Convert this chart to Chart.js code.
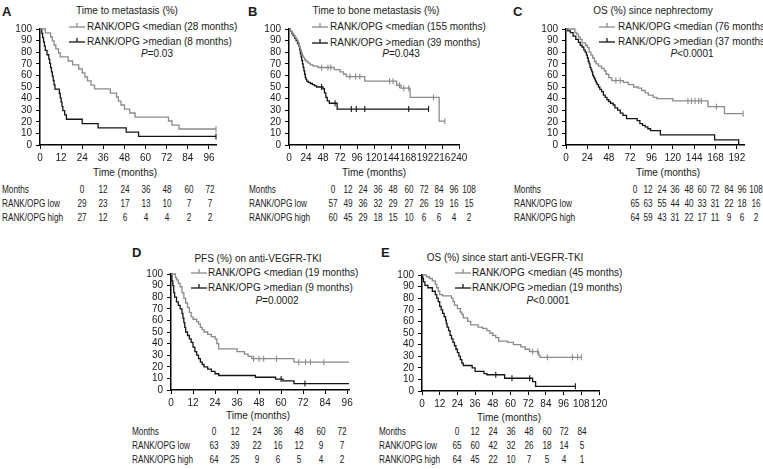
<!DOCTYPE html>
<html><head><meta charset="utf-8">
<script src="https://cdn.jsdelivr.net/npm/chart.js@4/dist/chart.umd.min.js"></script>
<style>
html,body{margin:0;padding:0;background:#fff;}
#wrap{position:relative;width:763px;height:469px;overflow:hidden;font-family:"Liberation Sans",Arial,Helvetica,sans-serif;color:#1a1a1a;}
.t{position:absolute;white-space:nowrap;font-size:10px;line-height:12px;}
.lt{font-weight:bold;font-size:13px;line-height:15px;}
.tbl{font-size:10px;}
canvas{position:absolute;}
svg{position:absolute;}
</style></head>
<body><div id="wrap"></div>
<script>
// ---------------- DATA ----------------
const yTicks = [0,10,20,30,40,50,60,70,80,90,100];
const xTicksA = [0,12,24,36,48,60,72,84,96];
const xTicksB = [0,24,48,72,96,120,144,168,192,216,240];
const xTicksC = [0,24,48,72,96,120,144,168,192];
const xTicksD = [0,12,24,36,48,60,72,84,96];
const xTicksE = [0,12,24,36,48,60,72,84,96,108,120];

// Panel A: Time to metastasis
const A_low_t  = [0,3,6,7,8,9,10.5,11.5,16,18.5,22,24,25.5,27,29,31,40,43.5,44.5,46,48,51,54,73,75,79,100];
const A_low_s  = [100,96.6,93.1,89.7,86.2,82.8,79.3,75.9,72.4,69,65.5,62.1,58.6,55.2,51.7,48.3,44.8,41.4,37.9,34.5,31,27.6,24.1,20.7,17.2,13.8,13.8];
const A_low_c  = [100];
const A_high_t = [0,1,1.5,2,2.5,3,4,5,5.5,6,6.5,7,7.5,8,8.5,11,11.5,12,12.5,13,14,15,24,33,49,56,100];
const A_high_s = [100,96.3,92.6,88.9,85.2,81.5,77.8,74.1,70.4,66.7,63,59.3,55.6,51.9,48.1,44.4,40.7,37,33.3,29.6,25.9,22.2,18.5,14.8,11.1,7.4,7.4];
const A_high_c = [100];

// Panel B: Time to bone metastasis
const B_low_t  = [0,2,4,6,8,10,12,13,14,15,16,17,18,19,20,22,24,27,30,34,41,64,72,77,81,107,152,158,171,212,220];
const B_low_s  = [100,98,96.5,95,93,91,89.5,88,86,84,82.5,80.5,79,77,75.5,73.5,72,70.5,69,68,66.8,65,63,61,59,55,51.5,49,41,20.5,20.5];
const B_low_c  = [46,55,59,86,94,100,142,147,156,162,169,204,220];
const B_high_t = [0,2,4,6,8,10,12,14,15,16,17,18,19,20,21,22,23,24,25,27,30,33,36,39,48,50,52,54,57,68,197];
const B_high_s = [100,98,96,94,92,90,87.5,85,82,79,76,73,70,67,64,61,58,56.5,55,54,53,52,51,50,48.5,45,41,38,36,31,31];
const B_high_c = [46,65,88,95,107,169,197];

// Panel C: OS since nephrectomy
const C_low_t  = [0,10,12,14,16,18,22,24,26,28,30,32,34,36.5,40,43,45,48,51.5,64.5,70,76,81,85,89,92.5,98,102,120,159.5,178,199];
const C_low_s  = [100,97,95.5,93,91,88,86,84,80,77.5,75,72,70,68,66,64,61,58,55.5,54,52,50,49,47,45,43,41,40,38,33,27,27];
const C_low_c  = [56,61,137,141,145,149,152,169,199];
const C_high_t = [0,2,5,8,11,14,16,18,20,21.5,23,24,25,26,27,28,29,30,31,32,33,34,35,36.5,38,40,42,44,46,48,50,53,55,58,61,64,68,80,83,86,89,92,95,106,167,194];
const C_high_s = [100,98.4,96.9,93.8,91,88.5,86,84.5,82,80,77.5,75,72,70,67,65,63,60,58.5,57,55,53.5,52,50,48,46,43,41,39,37.5,36,34.5,32,30,27.5,25.5,22.8,21,18.5,17,15.7,14,12.4,8.7,4.4,0];
const C_high_c = [];

// Panel D: PFS on anti-VEGFR-TKI
const D_low_t  = [0,2.4,3,4,5,6,7,8,9,10,11,12,14,15,16,17,18,20,22,24,25,26,36,40,42,44,67,97];
const D_low_s  = [100,97,95,92,89,84,79,75,71,67,63,61,59,57,54,52,50,48,46,44,40,35.5,33,31,29,27,24,24];
const D_low_c  = [45,48,50.5,57.5,69.6,73.3,76,83.3];
const D_high_t = [0,0.5,1,1.5,2,3,4,5,6,6.5,7,7.5,8,9,10,11,12,13,14,15,16,17,18,20,22,24,26,46,57,61,67,97];
const D_high_s = [100,94,90,84,80,76,73,70,66,62,58,54,50,47,44,41,37,33,30,27,24,22,20,18,16,14,12.5,11,9.4,7.8,5.5,5.5];
const D_high_c = [60,73];

// Panel E: OS since start anti-VEGFR-TKI
const E_low_t  = [0,3,5,7,9,10,11,12,14,20,21,22,24,26,27,28,31,33,38,41,44,46,48,50,52,58,62,67,70,73,79,80,108];
const E_low_s  = [100,98.5,97,95,92,89,86,83,82,80,77,74,71,68,66,63,60,57,55,54,52,50,48,46,43,42,40,38,36,34,31,29,29];
const E_low_c  = [75,78.5,85,102,105.5,108];
const E_high_t = [0,0.5,1,2,4,7,9,10,11,12,13,14,15,16,16.5,17,18,19,20,21,22,23,24,25,26,27,28,34,36,42,44,56,75,77,104];
const E_high_s = [100,97,94,91,89,86,83,80,77,73,70,67,64,61,58,55,52,48,45,42,39,36,33,30,27,24,22,20,17,15,14,11,8,4,4];
const E_high_c = [50,61,73,104];

// Risk tables
const monthsA = [0,12,24,36,48,60,72];
const riskA_low  = [29,23,17,13,10,7,7];
const riskA_high = [27,12,6,4,4,2,2];
const monthsB = [0,12,24,36,48,60,72,84,96,108];
const riskB_low  = [57,49,36,32,29,27,26,19,16,15];
const riskB_high = [60,45,29,18,15,10,6,6,4,2];
const monthsC = [0,12,24,36,48,60,72,84,96,108];
const riskC_low  = [65,63,55,44,40,33,31,22,18,16];
const riskC_high = [64,59,43,31,22,17,11,9,6,2];
const monthsD = [0,12,24,36,48,60,72];
const riskD_low  = [63,39,22,16,12,9,7];
const riskD_high = [64,25,9,6,5,4,2];
const monthsE = [0,12,24,36,48,60,72,84];
const riskE_low  = [65,60,42,32,26,18,14,5];
const riskE_high = [64,45,22,10,7,5,4,1];

// ---------------- RENDER ----------------
const wrap = document.getElementById('wrap');
const GRAY = '#8a8a8a', BLACK = '#151515';
const NARROW = 0.82;

function txt(s, x, y, align, cls, sx) {
  const d = document.createElement('div');
  d.className = 't ' + (cls || '');
  d.innerHTML = s;
  d.style.left = x + 'px'; d.style.top = y + 'px';
  const sc = sx ? ' scaleX(' + sx + ')' : '';
  if (align === 'left') {
    d.style.transformOrigin = 'left center';
    d.style.transform = 'translate(0,-50%)' + sc;
  } else {
    d.style.transform = 'translate(-50%,-50%)' + sc;
  }
  wrap.appendChild(d);
}
function sym(x, y, color) {
  const ns = 'http://www.w3.org/2000/svg';
  const s = document.createElementNS(ns, 'svg');
  s.setAttribute('width', 16); s.setAttribute('height', 10);
  s.style.left = x + 'px'; s.style.top = (y - 6) + 'px';
  s.innerHTML = '<line x1="0" y1="6" x2="16" y2="6" stroke="' + color + '" stroke-width="1.3"/>' +
                '<line x1="8" y1="2" x2="8" y2="6" stroke="' + color + '" stroke-width="1.3"/>';
  wrap.appendChild(s);
}
function stepAt(ts, ss, t) {
  let v = ss[0];
  for (let i = 0; i < ts.length; i++) { if (ts[i] <= t) v = ss[i]; else break; }
  return v;
}
function pts(ts, ss) { return ts.map((t, i) => ({x: t, y: ss[i]})); }
function cens(ts, ss, cs) { return cs.map(c => ({x: c, y: stepAt(ts, ss, c)})); }

function makeChart(g) {
  const LW = 36, PT = 8, PR = 14, BH = 26;
  const plotW = g.xR - g.x0, plotH = g.y0 - g.y100;
  const W = LW + plotW + PR, H = PT + plotH + BH;
  const cv = document.createElement('canvas');
  cv.width = W; cv.height = H;
  cv.style.left = (g.x0 - LW) + 'px'; cv.style.top = (g.y100 - PT) + 'px';
  cv.style.width = W + 'px'; cv.style.height = H + 'px';
  wrap.appendChild(cv);
  const line = (data, color) => ({data, borderColor: color, borderWidth: 1.3, stepped: 'before', pointRadius: 0, fill: false, clip: false});
  const cpts = (data, color) => ({data, showLine: false, pointStyle: 'line', rotation: 90, pointRadius: 3, borderColor: color, borderWidth: 1.1, clip: false});
  const font = {family: '"Liberation Sans", Arial, sans-serif', size: 10};
  new Chart(cv, {
    type: 'line',
    data: {datasets: [
      line(pts(g.lt, g.ls), GRAY), cpts(cens(g.lt, g.ls, g.lc), GRAY),
      line(pts(g.ht, g.hs), BLACK), cpts(cens(g.ht, g.hs, g.hc), BLACK)
    ]},
    options: {
      responsive: false, animation: false, devicePixelRatio: 1,
      layout: {padding: {top: PT, right: PR, left: 0, bottom: 0}},
      plugins: {legend: {display: false}, tooltip: {enabled: false}},
      scales: {
        x: {type: 'linear', min: 0, max: g.xMax, offset: false,
            afterFit(s) { s.height = BH; },
            afterBuildTicks(s) { s.ticks = g.xt.map(v => ({value: v})); },
            grid: {display: true, drawOnChartArea: false, drawTicks: true, tickLength: 4, color: '#000', lineWidth: 1},
            border: {display: true, color: '#000', width: 1.5},
            ticks: {font, color: '#1a1a1a', padding: 3, maxRotation: 0, autoSkip: false}},
        y: {type: 'linear', min: 0, max: 100,
            afterFit(s) { s.width = LW; },
            afterBuildTicks(s) { s.ticks = yTicks.map(v => ({value: v})); },
            grid: {display: true, drawOnChartArea: false, drawTicks: true, tickLength: 4, color: '#000', lineWidth: 1},
            border: {display: true, color: '#000', width: 1.5},
            ticks: {font, color: '#1a1a1a', padding: 4, autoSkip: false}}
      }
    }
  });
}
function table(lx, c0, step, ys, months, low, high) {
  txt('Months', lx, ys[0], 'left', 'tbl', NARROW);
  txt('RANK/OPG low', lx, ys[1], 'left', 'tbl', NARROW);
  txt('RANK/OPG high', lx, ys[2], 'left', 'tbl', NARROW);
  months.forEach((m, i) => {
    const x = c0 + i * step;
    txt(String(m), x, ys[0], 'c', 'tbl', NARROW);
    txt(String(low[i]), x, ys[1], 'c', 'tbl', NARROW);
    txt(String(high[i]), x, ys[2], 'c', 'tbl', NARROW);
  });
}
function panel(p) {
  txt(p.letter, p.lx, p.ly, 'left', 'lt');
  txt(p.title, p.tx, p.ty, 'c');
  sym(p.sx, p.l1, GRAY); txt(p.leg1, p.txl, p.l1, 'left');
  sym(p.sx, p.l2, BLACK); txt(p.leg2, p.txl, p.l2, 'left');
  txt(p.pv, p.px, p.py, 'c');
  txt('Time (months)', p.xtx, p.xty, 'c');
  makeChart(p.g);
}

panel({letter: 'A', lx: 2, ly: 11, title: 'Time to metastasis (%)', tx: 127, ty: 11,
  sx: 69, txl: 87, l1: 27, l2: 42, leg1: 'RANK/OPG &lt;median (28 months)', leg2: 'RANK/OPG &gt;median (8 months)',
  pv: '<i>P</i>=0.03', px: 157, py: 54, xtx: 125, xty: 173,
  g: {x0: 40, xR: 216, xMax: 100, y100: 27, y0: 145, xt: xTicksA,
      lt: A_low_t, ls: A_low_s, lc: A_low_c, ht: A_high_t, hs: A_high_s, hc: A_high_c}});
panel({letter: 'B', lx: 248, ly: 11, title: 'Time to bone metastasis (%)', tx: 376, ty: 11,
  sx: 312, txl: 330, l1: 27, l2: 43, leg1: 'RANK/OPG &lt;median (155 months)', leg2: 'RANK/OPG &gt;median (39 months)',
  pv: '<i>P</i>=0.043', px: 401, py: 54, xtx: 374, xty: 173,
  g: {x0: 289, xR: 459, xMax: 240, y100: 27, y0: 145, xt: xTicksB,
      lt: B_low_t, ls: B_low_s, lc: B_low_c, ht: B_high_t, hs: B_high_s, hc: B_high_c}});
panel({letter: 'C', lx: 513, ly: 11, title: 'OS (%) since nephrectomy', tx: 653, ty: 11,
  sx: 599, txl: 618, l1: 27, l2: 42, leg1: 'RANK/OPG &lt;median (76 months)', leg2: 'RANK/OPG &gt;median (37 months)',
  pv: '<i>P</i>&lt;0.0001', px: 692, py: 54, xtx: 668, xty: 173,
  g: {x0: 566, xR: 744, xMax: 200, y100: 27, y0: 145, xt: xTicksC,
      lt: C_low_t, ls: C_low_s, lc: C_low_c, ht: C_high_t, hs: C_high_s, hc: C_high_c}});
panel({letter: 'D', lx: 132, ly: 252, title: 'PFS (%) on anti-VEGFR-TKI', tx: 258, ty: 259,
  sx: 191, txl: 208, l1: 273, l2: 288, leg1: 'RANK/OPG &lt;median (19 months)', leg2: 'RANK/OPG &gt;median (9 months)',
  pv: '<i>P</i>=0.0002', px: 277, py: 301, xtx: 258, xty: 416,
  g: {x0: 171, xR: 349, xMax: 97, y100: 272, y0: 390, xt: xTicksD,
      lt: D_low_t, ls: D_low_s, lc: D_low_c, ht: D_high_t, hs: D_high_s, hc: D_high_c}});
panel({letter: 'E', lx: 381, ly: 252, title: 'OS (%) since start anti-VEGFR-TKI', tx: 505, ty: 258,
  sx: 455, txl: 472, l1: 273, l2: 288, leg1: 'RANK/OPG &lt;median (45 months)', leg2: 'RANK/OPG &gt;median (19 months)',
  pv: '<i>P</i>&lt;0.0001', px: 548, py: 301, xtx: 509, xty: 418,
  g: {x0: 422, xR: 599, xMax: 120, y100: 273, y0: 391, xt: xTicksE,
      lt: E_low_t, ls: E_low_s, lc: E_low_c, ht: E_high_t, hs: E_high_s, hc: E_high_c}});

table(2, 82, 21.33, [190, 204, 218], monthsA, riskA_low, riskA_high);
table(249, 333, 15.1, [190, 204, 218], monthsB, riskB_low, riskB_high);
table(514, 635, 13.4, [190, 204, 218], monthsC, riskC_low, riskC_high);
table(132, 214, 21.3, [432, 446, 460], monthsD, riskD_low, riskD_high);
table(379, 457, 17.9, [432, 446, 460], monthsE, riskE_low, riskE_high);
</script>
</body></html>
